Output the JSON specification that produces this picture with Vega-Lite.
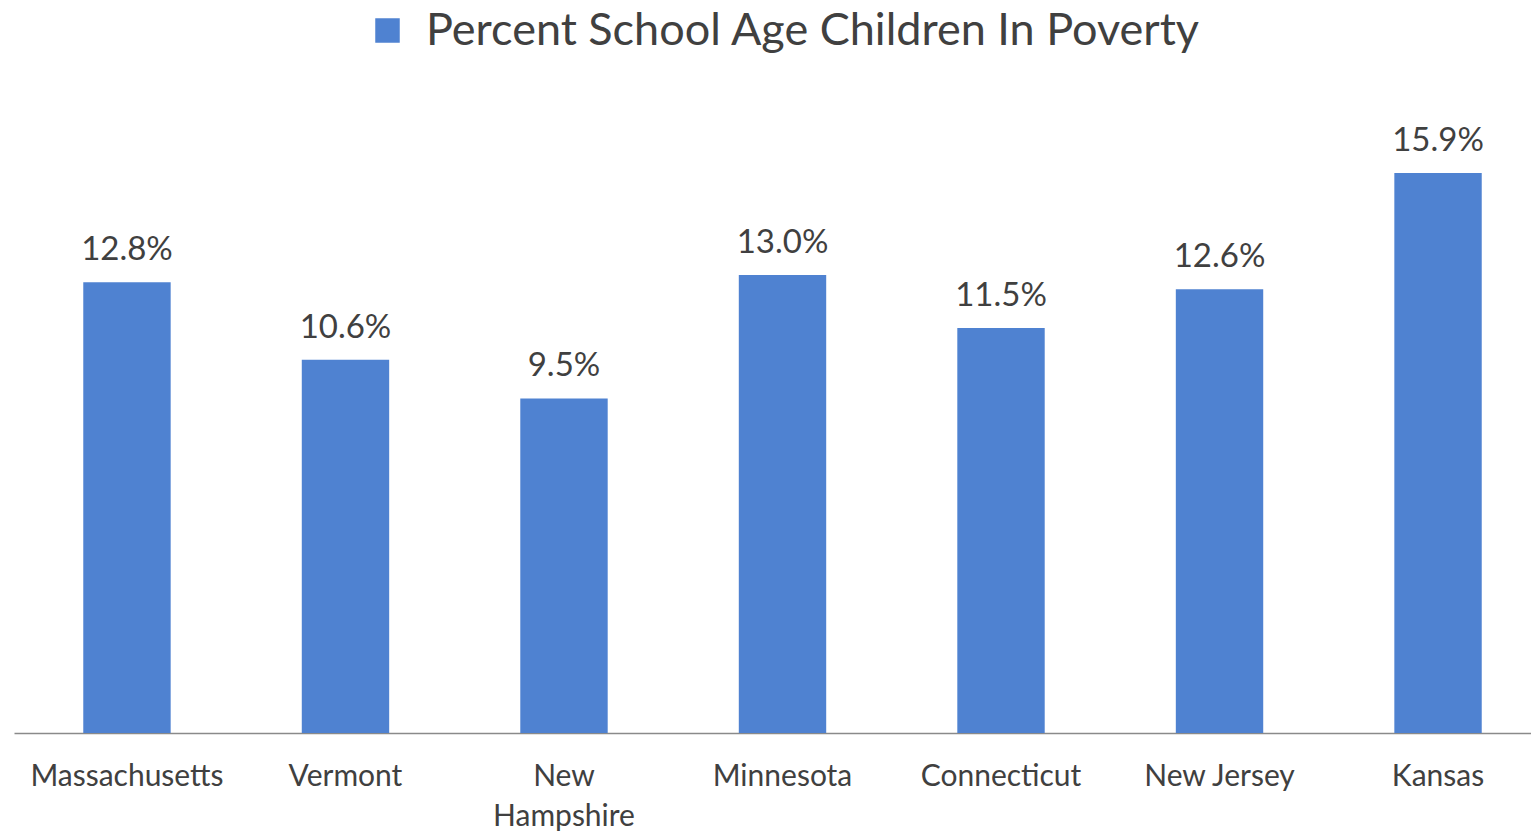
{
  "$schema": "https://vega.github.io/schema/vega-lite/v6.json",
  "autosize": "none",
  "width": 1537,
  "height": 634,
  "padding": {"left": 14, "top": 99, "right": 0, "bottom": 100},
  "background": "white",
  "data": {"values": [
    {"state": "Massachusetts", "pct": 0.128, "series": "Percent School Age Children In Poverty"},
    {"state": "Vermont", "pct": 0.106, "series": "Percent School Age Children In Poverty"},
    {"state": "New Hampshire", "pct": 0.095, "series": "Percent School Age Children In Poverty"},
    {"state": "Minnesota", "pct": 0.130, "series": "Percent School Age Children In Poverty"},
    {"state": "Connecticut", "pct": 0.115, "series": "Percent School Age Children In Poverty"},
    {"state": "New Jersey", "pct": 0.126, "series": "Percent School Age Children In Poverty"},
    {"state": "Kansas", "pct": 0.159, "series": "Percent School Age Children In Poverty"}
  ]},
  "config": {"view": {"stroke": null}, "font": "Lato",
    "legend": {"layout": {"top": {"anchor": "middle"}}}},
  "encoding": {
    "x": {"field": "state", "type": "nominal", "sort": null,
      "scale": {"paddingInner": 0.6, "paddingOuter": 0.317},
      "axis": {"title": null, "labelAngle": 0, "labelFontSize": 30, "labelColor": "#404040", "labelFont": "Lato",
        "labelPadding": 28, "ticks": false, "domainColor": "#8a8a8a", "domainWidth": 1.5,
        "labelLineHeight": 40, "labelBaseline": "top", "labelLimit": 0,
        "labelExpr": "datum.label == 'New Hampshire' ? ['New', 'Hampshire'] : datum.label"}},
    "y": {"field": "pct", "type": "quantitative", "scale": {"domain": [0, 0.18]}, "axis": null}
  },
  "layer": [
    {"mark": {"type": "bar"},
     "encoding": {"color": {"field": "series", "type": "nominal",
       "scale": {"range": ["#4f82d1"]},
       "legend": {"title": null, "orient": "top", "offset": 45, "symbolType": "square", "symbolSize": 600,
         "symbolStrokeWidth": 0, "labelFontSize": 45, "labelColor": "#404040", "labelFont": "Lato", "labelOffset": 16, "labelLimit": 0}}}},
    {"mark": {"type": "text", "baseline": "alphabetic", "dy": -22, "fontSize": 33, "color": "#404040", "font": "Lato"},
     "encoding": {"text": {"field": "pct", "type": "quantitative", "format": ".1%"}}}
  ]
}
